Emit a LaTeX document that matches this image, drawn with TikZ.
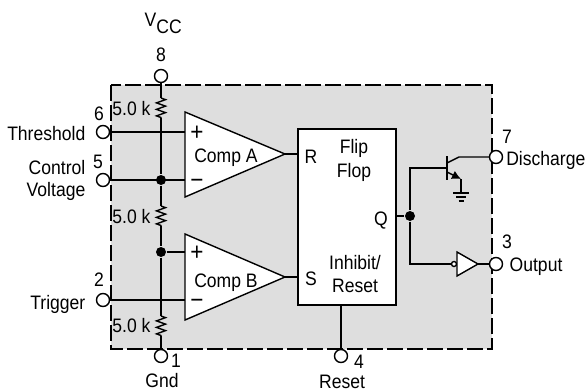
\documentclass[tikz,border=0pt]{standalone}
\usepackage{fontspec}
\setmainfont[FakeStretch=0.9]{Liberation Sans}
\usetikzlibrary{decorations.pathmorphing,arrows.meta}

\begin{document}
\begin{tikzpicture}[x=1pt, y=-1pt, line width=1.4pt,
    lbl/.style={inner sep=0pt, anchor=base, font=\fontsize{19.5}{22}\selectfont},
    sgn/.style={inner sep=0pt, anchor=base, font=\fontsize{25}{25}\selectfont},
    pin/.style={draw, circle, fill=white, inner sep=0pt, minimum size=13pt},
    dot/.style={fill=black, circle, inner sep=0pt, minimum size=10pt},
    resistor/.style={decorate, decoration={zigzag, amplitude=4.5pt, segment length=6.5pt}}]
            \useasboundingbox (0,0) rectangle (588,391);

            % package outline
            \fill[black!13] (111,85) rectangle (492,349);
            \draw[line width=1.5pt, dash pattern=on 16pt off 4pt] (111,85) rectangle (492,349);

            % pins
            \node[pin] (p8) at (161,76) {};
            \node[pin] (p6) at (103,132) {};
            \node[pin] (p5) at (103,180) {};
            \node[pin] (p2) at (103,300) {};
            \node[pin] (p1) at (161,356) {};
            \node[pin] (p4) at (341,356) {};
            \node[pin] (p7) at (496,157) {};
            \node[pin] (p3) at (496,264) {};

            % junctions
            \node[dot] (j1) at (161,180) {};
            \node[dot] (j2) at (161,252) {};
            \node[dot] (j3) at (410,216) {};

            % divider
            \coordinate (r1a) at (161,98);
            \coordinate (r1b) at (161,118);
            \coordinate (r2a) at (161,206);
            \coordinate (r2b) at (161,226);
            \coordinate (r3a) at (161,316);
            \coordinate (r3b) at (161,336);
            \draw (p8) -- (r1a);
            \draw[resistor] (r1a) -- (r1b);
            \draw (r1b) -- (j1);
            \draw (j1) -- (r2a);
            \draw[resistor] (r2a) -- (r2b);
            \draw (r2b) -- (j2);
            \draw (j2) -- (r3a);
            \draw[resistor] (r3a) -- (r3b);
            \draw (r3b) -- (p1);

            % comparators
            \coordinate (ca) at (185,112);
            \coordinate (cb) at (185,197);
            \coordinate (cc) at (285,154);
            \coordinate (da) at (185,234);
            \coordinate (db) at (185,320);
            \coordinate (dc) at (285,277);
            \coordinate (ap) at (185,132);
            \coordinate (an) at (185,180);
            \coordinate (bp) at (185,252);
            \coordinate (bn) at (185,300);
            \draw (p6) -- (ap);
            \draw (p5) -- (an);
            \draw (j2) -- (bp);
            \draw (p2) -- (bn);
            \draw[fill=white] (ca) -- (cb) -- (cc) -- cycle;
            \draw[fill=white] (da) -- (db) -- (dc) -- cycle;

            % flip flop
            \node[draw, fill=white, inner sep=0pt, minimum width=98pt, minimum height=176pt] (ff) at (347,217) {};
            \draw (cc) -- (cc -| ff.west);
            \draw (dc) -- (dc -| ff.west);
            \draw (ff.south -| p4) -- (p4);
            \draw (j3 -| ff.east) -- (j3);

            % discharge transistor
            \coordinate (tb) at (447,168);
            \coordinate (tc) at (447,163);
            \coordinate (te) at (447,172);
            \coordinate (tk) at (459,157);
            \coordinate (tm) at (461,179);
            \coordinate (tg) at (461,193);
            \draw (j3) |- (tb);
            \draw (447,156) -- (447,180);
            \draw (tc) -- (tk) -- (p7);
            \draw[-{Latex[length=9pt,width=9pt]}] (te) -- (tm);
            \draw (tm) -- (tg);
            \draw (453,193) -- (469,193);
            \draw (456,197) -- (466,197);
            \draw (458.5,201) -- (463.5,201);

            % output buffer
            \coordinate (oa) at (457,252);
            \coordinate (ob) at (457,276);
            \coordinate (oc) at (478,264);
            \node[draw, circle, fill=white, inner sep=0pt, minimum size=5pt] (inv) at (454,264) {};
            \draw (j3) |- (inv);
            \draw[fill=white] (oa) -- (ob) -- (oc) -- cycle;
            \draw (oc) -- (p3);

            % labels
            \node[lbl, anchor=base west] (vcc) at (144,26) {V\raisebox{-7pt}{CC}};
            \node[lbl] (n8) at (161,61) {8};
            \node[lbl] (n6) at (99,120) {6};
            \node[lbl] (n5) at (98,168) {5};
            \node[lbl] (n2) at (99,286) {2};
            \node[lbl] (n1) at (176,367) {1};
            \node[lbl] (n4) at (359,368) {4};
            \node[lbl] (n7) at (507,143) {7};
            \node[lbl] (n3) at (507,248) {3};
            \node[lbl, anchor=base east] (thr) at (86,140) {Threshold};
            \node[lbl, anchor=base east] (ctl) at (86,174) {Control};
            \node[lbl, anchor=base east] (vlt) at (86,196) {Voltage};
            \node[lbl, anchor=base east] (trg) at (86,309) {Trigger};
            \node[lbl] (gnd) at (162,387) {Gnd};
            \node[lbl] (rst) at (342,388) {Reset};
            \node[lbl, anchor=base east] (dis) at (586,165) {Discharge};
            \node[lbl, anchor=base west] (out) at (509,271) {Output};
            \node[lbl] (k1) at (131.5,115) {5.0 k};
            \node[lbl] (k2) at (131.5,223) {5.0 k};
            \node[lbl] (k3) at (131.5,332) {5.0 k};
            \node[lbl] (cma) at (226,162) {Comp A};
            \node[lbl] (cmb) at (226,287) {Comp B};
            \node[sgn] (ipa) at (197,140) {+};
            \node[sgn] (ina) at (197,188) {\textminus};
            \node[sgn] (ipb) at (197,260) {+};
            \node[sgn] (inb) at (197,308) {\textminus};
            \node[lbl] (r) at (311,163) {R};
            \node[lbl] (s) at (311,285) {S};
            \node[lbl] (q) at (381,225) {Q};
            \node[lbl] (flp) at (354,153) {Flip};
            \node[lbl] (flo) at (354,177) {Flop};
            \node[lbl] (inh) at (355,269) {Inhibit/};
            \node[lbl] (rs2) at (355,292) {Reset};

        \end{tikzpicture}
\end{document}
